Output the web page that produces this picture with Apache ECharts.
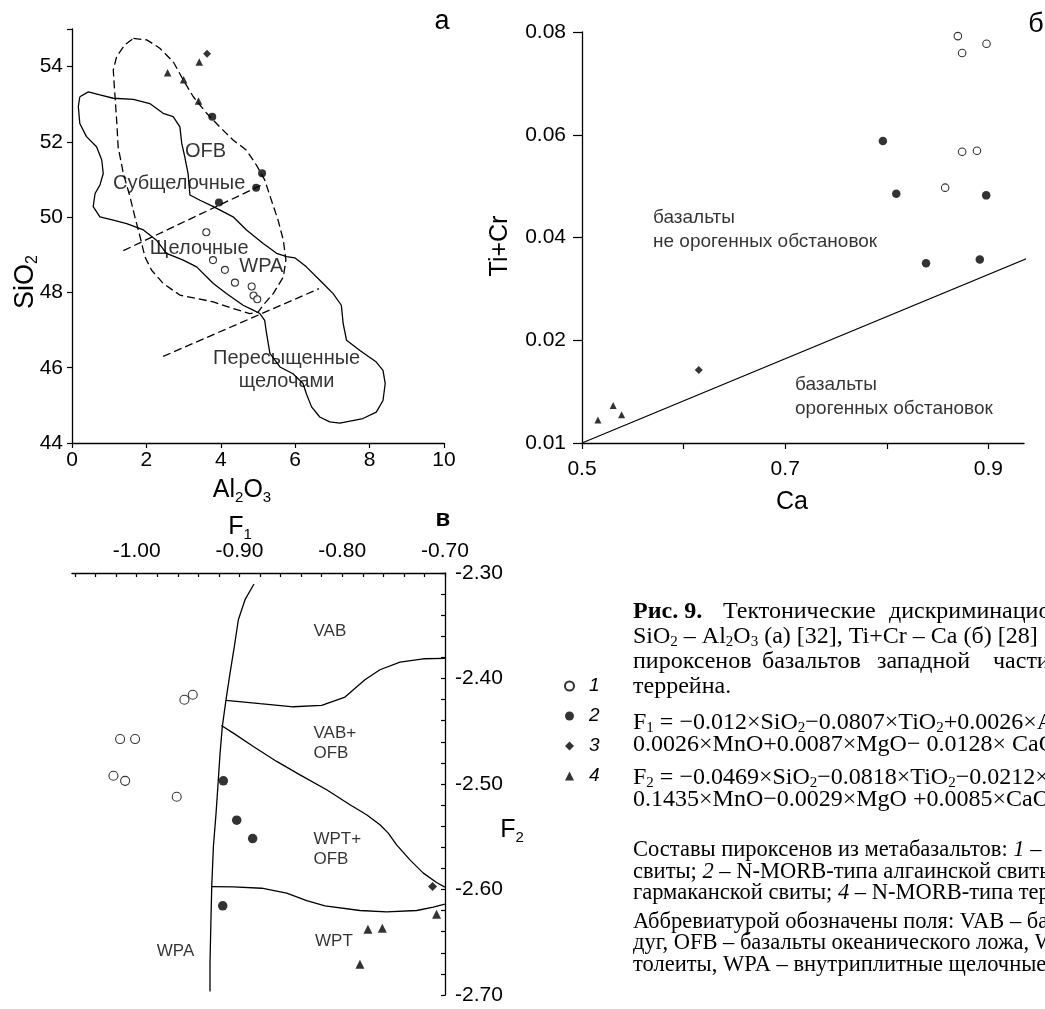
<!DOCTYPE html>
<html><head><meta charset="utf-8">
<script src="https://cdn.jsdelivr.net/npm/echarts@6/dist/echarts.min.js"></script>
<style>html,body{margin:0;padding:0;background:#fff}#c{width:1045px;height:1009px}</style>
</head><body><div id="c"></div><script>
// ---------- Panel а : SiO2 – Al2O3 ----------
const aOpen = [[3.61,49.60],[3.79,48.86],[4.11,48.60],[4.38,48.26],[4.83,48.16],[4.88,47.92],[4.98,47.82]];
const aFilled = [[3.77,52.67],[5.11,51.17],[4.95,50.78],[3.95,50.39]];
const aDiamond = [[3.63,54.34]];
const aTriangle = [[2.57,53.84],[3.00,53.65],[3.42,54.12],[3.40,53.09]];
const aSolid = [[0.21,53.20],[0.44,53.33],[0.75,53.25],[1.11,53.16],[1.65,53.13],[2.09,53.02],[2.45,52.76],[2.72,52.67],[2.90,52.40],[2.95,51.96],[3.03,51.61],[3.12,51.16],[3.17,50.59],[3.44,50.45],[3.80,50.28],[4.33,50.01],[4.69,49.66],[5.14,49.30],[5.50,49.04],[5.77,48.95],[5.99,48.92],[6.30,48.68],[6.75,48.24],[7.02,47.97],[7.24,47.66],[7.29,47.17],[7.38,46.73],[7.74,46.46],[8.18,46.15],[8.36,45.93],[8.42,45.58],[8.36,45.13],[8.18,44.82],[7.82,44.65],[7.20,44.53],[6.93,44.56],[6.66,44.69],[6.44,44.96],[6.30,45.31],[6.21,45.58],[5.94,45.84],[5.59,46.02],[5.32,46.38],[5.23,46.91],[5.18,47.26],[5.05,47.44],[4.87,47.53],[4.60,47.66],[4.15,47.97],[3.80,48.24],[3.35,48.68],[2.99,48.86],[2.54,49.04],[2.27,49.39],[1.92,49.66],[1.47,49.83],[1.11,49.92],[0.75,50.01],[0.57,50.28],[0.62,50.63],[0.75,50.85],[0.84,51.16],[0.80,51.52],[0.66,51.87],[0.39,52.14],[0.21,52.49],[0.17,52.94],[0.21,53.20]];
const aOFB = [[1.65,54.75],[2.01,54.71],[2.36,54.49],[2.72,54.13],[2.99,53.65],[3.26,53.20],[3.62,52.76],[3.97,52.40],[4.33,52.05],[4.69,51.78],[4.96,51.38],[5.18,50.99],[5.36,50.45],[5.54,49.92],[5.68,49.39],[5.75,48.86],[5.68,48.41],[5.41,47.97],[5.18,47.71],[5.00,47.48],[4.78,47.44],[4.33,47.57],[3.80,47.75],[3.35,47.84],[2.90,47.93],[2.45,48.24],[2.14,48.59],[1.96,48.95],[1.83,49.48],[1.69,50.01],[1.56,50.54],[1.38,51.16],[1.24,51.87],[1.20,52.58],[1.15,53.29],[1.11,53.91],[1.20,54.27],[1.42,54.58],[1.65,54.75]];
const aDash1 = [[1.38,49.11],[5.09,50.85]];
const aDash2 = [[2.45,46.30],[6.64,48.10]];
const aXTicks = [0,2,4,6,8,10];
const aYTicks = [44,46,48,50,52,54,55];
const aYLabels = [44,46,48,50,52,54];
const aNoteText = ['OFB','Субщелочные','Щелочные','WPA','Пересыщенные\nщелочами'];
const aNotePos = [[3.59,51.74],[2.88,50.90],[3.42,49.17],[5.09,48.68],[5.77,45.93]];

// ---------- Panel б : Ti+Cr – Ca ----------
const bOpen = [[0.8797,0.0820],[0.8699,0.0792],[0.8981,0.0777],[0.8741,0.0759],[0.8741,0.0567],[0.8887,0.0569],[0.8574,0.0497]];
const bFilled = [[0.7961,0.0588],[0.8093,0.0485],[0.8978,0.0482],[0.8386,0.0350],[0.8915,0.0357]];
const bDiamond = [[0.6149,0.0142]];
const bTriangle = [[0.5157,0.0045],[0.5307,0.0073],[0.5390,0.0055]];
const bLine = [[0.5,0],[0.950,0.0369]];
const bXTicks = [0.5,0.6,0.7,0.8,0.9];
const bXLabels = [0.5,0.7,0.9];
const bYTicks = [0,0.02,0.04,0.06,0.08];
const bYTickText = ['0.01','0.02','0.04','0.06','0.08'];
const bNoteText = ['базальты\nне орогенных обстановок','базальты\nорогенных обстановок'];
const bNotePos = [[0.5699,0.0415],[0.7096,0.0090]];

// ---------- Panel в : F1 – F2 ----------
const vOpen = [[-0.9536,-2.4201],[-0.9455,-2.4154],[-1.0162,-2.4574],[-1.0016,-2.4574],[-1.0227,-2.4922],[-1.0113,-2.4970],[-0.9611,-2.5121]];
const vFilled = [[-0.9157,-2.4970],[-0.9027,-2.5343],[-0.8872,-2.5517],[-0.9163,-2.6155]];
const vDiamond = [[-0.7121,-2.5972]];
const vTriangle = [[-0.7750,-2.6377],[-0.7610,-2.6367],[-0.7828,-2.6709],[-0.7082,-2.6234]];
const vLineA = [[-0.8859,-2.3104],[-0.8946,-2.3253],[-0.9011,-2.3443],[-0.9050,-2.3696],[-0.9092,-2.3949],[-0.9131,-2.4201],[-0.9167,-2.4454],[-0.9189,-2.4707],[-0.9206,-2.4960],[-0.9228,-2.5276],[-0.9254,-2.5592],[-0.9270,-2.5972],[-0.9280,-2.6383],[-0.9287,-2.6699],[-0.9287,-2.6968]];
const vLineB = [[-0.9131,-2.4208],[-0.8800,-2.4239],[-0.8476,-2.4268],[-0.8200,-2.4255],[-0.7973,-2.4176],[-0.7892,-2.4107],[-0.7779,-2.4012],[-0.7633,-2.3917],[-0.7438,-2.3844],[-0.7211,-2.3813],[-0.7001,-2.3809]];
const vLineC = [[-0.9176,-2.4445],[-0.9060,-2.4518],[-0.8865,-2.4644],[-0.8638,-2.4786],[-0.8411,-2.4913],[-0.8152,-2.5055],[-0.7925,-2.5197],[-0.7763,-2.5292],[-0.7633,-2.5387],[-0.7552,-2.5466],[-0.7471,-2.5577],[-0.7341,-2.5719],[-0.7211,-2.5845],[-0.7082,-2.5934],[-0.7001,-2.5978]];
const vLineD = [[-0.9270,-2.5972],[-0.9060,-2.5975],[-0.8784,-2.5988],[-0.8541,-2.6035],[-0.8346,-2.6105],[-0.8168,-2.6155],[-0.7828,-2.6199],[-0.7568,-2.6212],[-0.7276,-2.6199],[-0.7114,-2.6168],[-0.7001,-2.6139]];
const vXTicks = [-1.06,-1.04,-1.02,-1.00,-0.98,-0.96,-0.94,-0.92,-0.90,-0.88,-0.86,-0.84,-0.82,-0.80,-0.78,-0.76,-0.74,-0.72,-0.70];
const vXLabels = [-1.00,-0.90,-0.80,-0.70];
const vYTicks = [-2.70,-2.68,-2.66,-2.64,-2.62,-2.60,-2.58,-2.56,-2.54,-2.52,-2.50,-2.48,-2.46,-2.44,-2.42,-2.40,-2.38,-2.36,-2.34,-2.32,-2.30];
const vYLabels = [-2.70,-2.60,-2.50,-2.40,-2.30];
const vNoteText = ['VAB','VAB+\nOFB','WPT+\nOFB','WPT','WPA'];
const vNotePos = [[-0.828,-2.3553],[-0.828,-2.4619],[-0.828,-2.5621],[-0.8265,-2.6494],[-0.9805,-2.6588]];

const legendNames = ['1','2','3','4'];

// ---------- build ----------
const FONT = '"Liberation Sans", Arial, sans-serif';
const SERIF = '"Liberation Serif", "Times New Roman", serif';
const black = '#000';
const axLine = {show:true, lineStyle:{color:black, width:1.3}};

function sc(name, data, gi, symbol, size, open) {
  return {type:'scatter', name, xAxisIndex:gi, yAxisIndex:gi, data, symbol, symbolSize:size,
    itemStyle: open ? {color:'#fff', borderColor:black, borderWidth:1.1} : {color:black},
    z:5, animation:false};
}
function ln(data, gi, dashed, clip) {
  return {type:'line', xAxisIndex:gi, yAxisIndex:gi, data, symbol:'none', showSymbol:false, silent:true,
    lineStyle:{color:black, width:1.3, type: dashed ? [8,4] : 'solid'}, clip: clip !== false,
    animation:false, z:2};
}
function notes(texts, pos, gi, fs, lh, position) {
  return {type:'scatter', xAxisIndex:gi, yAxisIndex:gi, symbolSize:0, silent:true, animation:false, z:4,
    itemStyle:{color:black},
    data: texts.map((t,i)=>({name:t, value:pos[i]})),
    label:{show:true, formatter:'{b}', position, distance:0, color:black, textBorderWidth:0,
      fontFamily:FONT, fontSize:fs, lineHeight:lh}};
}
function ticks(vals, len, inside) { return {show:true, customValues:vals, length:len, inside:!!inside, lineStyle:{color:black, width:1.2}}; }

const axisLabelBase = {color:black, fontFamily:FONT, fontSize:21};

const option = {
  backgroundColor:'#fff',
  animation:false,
  grid:[
    {left:72, top:29, width:372, height:414},
    {left:582, top:32, width:442, height:411},
    {left:72, top:573, width:373, height:422}
  ],
  xAxis:[
    {gridIndex:0, type:'value', min:0, max:10, interval:2, axisLine:axLine, splitLine:{show:false},
     axisTick:ticks(aXTicks,5), axisLabel:Object.assign({customValues:aXTicks, margin:7}, axisLabelBase)},
    {gridIndex:1, type:'value', min:0.5, max:0.935, interval:0.1, axisLine:axLine, splitLine:{show:false},
     axisTick:ticks(bXTicks,6), axisLabel:Object.assign({customValues:bXLabels, margin:16, formatter:v=>v.toFixed(1)}, axisLabelBase)},
    {gridIndex:2, type:'value', position:'top', min:-1.063, max:-0.70, axisLine:axLine, splitLine:{show:false},
     axisTick:ticks(vXTicks,4,true), axisLabel:Object.assign({customValues:vXLabels, margin:11, formatter:v=>v.toFixed(2)}, axisLabelBase)}
  ],
  yAxis:[
    {gridIndex:0, type:'value', min:44, max:55, interval:2, axisLine:axLine, splitLine:{show:false},
     axisTick:ticks(aYTicks,5), axisLabel:Object.assign({customValues:aYLabels, margin:9}, axisLabelBase)},
    {gridIndex:1, type:'value', min:0, max:0.08, interval:0.02, axisLine:axLine, splitLine:{show:false},
     axisTick:ticks(bYTicks,9), axisLabel:Object.assign({customValues:bYTicks, margin:16,
       formatter:v=>{const i=bYTicks.findIndex(t=>Math.abs(t-v)<1e-9); return i>=0?bYTickText[i]:'';}}, axisLabelBase)},
    {gridIndex:2, type:'value', position:'right', min:-2.70, max:-2.30, axisLine:axLine, splitLine:{show:false},
     axisTick:ticks(vYTicks,4,true), axisLabel:Object.assign({customValues:vYLabels, margin:10, formatter:v=>v.toFixed(2)}, axisLabelBase)}
  ],
  legend:{data:legendNames, orient:'vertical', left:559, top:671, itemWidth:9, itemHeight:9, itemGap:10,
    selectedMode:false,
    textStyle:{fontStyle:'italic', fontSize:19, fontFamily:FONT, color:black, lineHeight:20, padding:[0,0,0,10]}},
  series:[
    ln(aSolid,0,false), ln(aOFB,0,true), ln(aDash1,0,true), ln(aDash2,0,true),
    ln(bLine,1,false,false),
    ln(vLineA,2,false), ln(vLineB,2,false), ln(vLineC,2,false), ln(vLineD,2,false),
    sc('1',aOpen,0,'circle',7,true), sc('2',aFilled,0,'circle',8), sc('3',aDiamond,0,'diamond',8), sc('4',aTriangle,0,'triangle',7.5),
    sc('1',bOpen,1,'circle',7.5,true), sc('2',bFilled,1,'circle',8.5), sc('3',bDiamond,1,'diamond',8), sc('4',bTriangle,1,'triangle',7),
    sc('1',vOpen,2,'circle',9,true), sc('2',vFilled,2,'circle',9.5), sc('3',vDiamond,2,'diamond',9), sc('4',vTriangle,2,'triangle',9),
    notes(aNoteText,aNotePos,0,20,23,'inside'),
    notes(bNoteText,bNotePos,1,19,23.7,'right'),
    notes(vNoteText,vNotePos,2,17,20,'right')
  ],
  graphic:[]
};

// axis titles and panel letters
const subRich = (fs, lh) => ({s:{fontSize:fs, lineHeight:lh, verticalAlign:'bottom', fontFamily:FONT, fill:black}});
function txt(x, y, text, fs, opts) {
  opts = opts || {};
  return {type:'text', x, y, rotation: opts.rot || 0, silent:true, z:10,
    style:{text, fill:black, fontFamily: opts.family || FONT, fontSize:fs, fontWeight: opts.weight || 'normal',
      fontStyle: opts.style || 'normal', lineHeight: opts.lh, align: opts.align || 'center',
      verticalAlign:'middle', rich: opts.rich}};
}
const G = option.graphic;
G.push(txt(26,282,'SiO{s|2}',27,{rot:Math.PI/2, lh:30, rich:subRich(16,10)}));
G.push(txt(242,490,'Al{s|2}O{s|3}',25,{lh:30, rich:subRich(15,10)}));
G.push(txt(500,246,'Ti+Cr',25,{rot:Math.PI/2}));
G.push(txt(792,502,'Ca',25));
G.push(txt(240,527,'F{s|1}',25,{lh:30, rich:subRich(15,10)}));
G.push(txt(512,830,'F{s|2}',25,{lh:30, rich:subRich(15,10)}));
G.push(txt(442,22,'а',27));
G.push(txt(1036,25,'б',27));
G.push(txt(443,519,'в',24,{weight:'bold'}));

// caption
function cap(x, y, text, fs) {
  const sfs = Math.round(fs*0.62);
  return {type:'text', x, y, silent:true, z:10,
    style:{text, fill:black, fontFamily:SERIF, fontSize:fs, lineHeight:fs+2, align:'left', verticalAlign:'middle',
      rich:{
        s:{fontSize:sfs, lineHeight:6, verticalAlign:'bottom', fontFamily:SERIF, fill:black},
        b:{fontWeight:'bold', fontSize:fs, fontFamily:SERIF, fill:black},
        i:{fontStyle:'italic', fontSize:fs, fontFamily:SERIF, fill:black}
      }}};
}
G.push(cap(633,612,'{b|Рис. 9.}',24));
G.push(cap(723,612,'Тектонические',24));
G.push(cap(889,612,'дискриминационные',24));
G.push(cap(633,637,'SiO{s|2} – Al{s|2}O{s|3} (а) [32], Ti+Cr – Ca (б) [28]',24));
G.push(cap(633,662,'пироксенов',24));
G.push(cap(762,662,'базальтов',24));
G.push(cap(877,662,'западной',24));
G.push(cap(993,662,'части',24));
G.push(cap(633,687,'террейна.',24));
G.push(cap(633,723,'F{s|1} = −0.012×SiO{s|2}−0.0807×TiO{s|2}+0.0026×Al',24));
G.push(cap(633,745,'0.0026×MnO+0.0087×MgO− 0.0128× CaO',24));
G.push(cap(633,778,'F{s|2} = −0.0469×SiO{s|2}−0.0818×TiO{s|2}−0.0212×Al',24));
G.push(cap(633,800,'0.1435×MnO−0.0029×MgO +0.0085×CaO',24));
G.push(cap(633,850,'Составы пироксенов из метабазальтов: {i|1} – ',22.5));
G.push(cap(633,872,'свиты; {i|2} – N-MORB-типа алгаинской свиты',22.5));
G.push(cap(633,893,'гармаканской свиты; {i|4} – N-MORB-типа тер',22.5));
G.push(cap(633,922,'Аббревиатурой обозначены поля: VAB – ба',22.5));
G.push(cap(633,943,'дуг, OFB – базальты океанического ложа, W',22.5));
G.push(cap(633,965,'толеиты, WPA – внутриплитные щелочные',22.5));

const chart = echarts.init(document.getElementById('c'), null, {renderer:'canvas'});
chart.setOption(option);
</script></body></html>
